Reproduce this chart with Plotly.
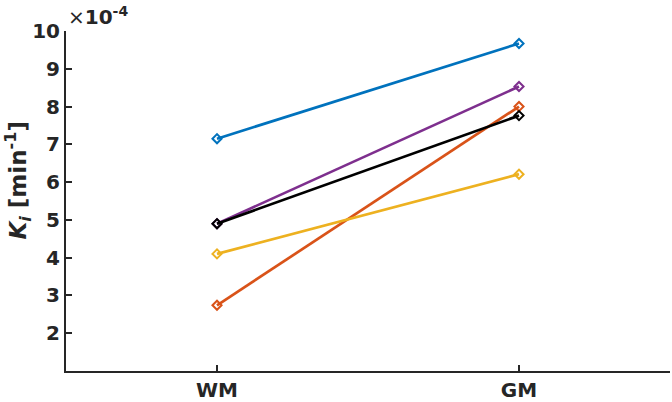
import plotly.graph_objects as go

regions = ["WM", "GM"]
x_pos = [1, 2]
y_ticks = [2, 3, 4, 5, 6, 7, 8, 9, 10]

# Ki values (x 1e-4 min^-1)
subject_blue = [7.15, 9.67]
subject_orange = [2.74, 8.00]
subject_yellow = [4.10, 6.21]
subject_purple = [4.90, 8.53]
subject_black = [4.90, 7.76]

series = [
    (subject_blue, "#0072BD"),
    (subject_orange, "#D95319"),
    (subject_yellow, "#EDB120"),
    (subject_purple, "#7E2F8E"),
    (subject_black, "#000000"),
]

FONT = "DejaVu Sans"
AXIS_COLOR = "#262626"

fig = go.Figure()
for vals, color in series:
    fig.add_trace(
        go.Scatter(
            x=x_pos,
            y=vals,
            mode="lines+markers",
            line=dict(color=color, width=2.7),
            marker=dict(symbol="diamond-open", size=7, color=color, line=dict(width=2)),
            showlegend=False,
        )
    )

axis_style = dict(
    showgrid=False,
    zeroline=False,
    showline=True,
    linecolor=AXIS_COLOR,
    linewidth=2,
    ticks="inside",
    ticklen=6,
    tickwidth=2,
    tickcolor=AXIS_COLOR,
    automargin=False,
    tickfont=dict(size=20, family=FONT, color=AXIS_COLOR, weight="bold"),
)

fig.update_layout(
    width=672,
    height=402,
    template="plotly_white",
    plot_bgcolor="white",
    paper_bgcolor="white",
    margin=dict(l=66, r=2, t=31, b=31, pad=0),
    font=dict(family=FONT, color=AXIS_COLOR),
    xaxis=dict(range=[0.5, 2.5], tickvals=x_pos, ticktext=regions, **axis_style),
    yaxis=dict(range=[1, 10], tickvals=y_ticks, **axis_style),
)

# y-axis title placed by hand (sits a bit above the plot centre, as in the original)
fig.add_annotation(
    x=0, y=0.56, xref="paper", yref="paper",
    xanchor="center", yanchor="middle",
    xshift=-48,
    textangle=-90,
    text="<i>K<sub>i</sub></i> [min<sup>-1</sup>]",
    showarrow=False,
    font=dict(size=23, family=FONT, color=AXIS_COLOR, weight="bold"),
)

fig.add_annotation(
    x=0, y=1, xref="paper", yref="paper",
    xanchor="left", yanchor="bottom",
    text="<span style='font-weight:normal'>×</span>10<sup>-4</sup>",
    showarrow=False,
    font=dict(size=20, family=FONT, color=AXIS_COLOR, weight="bold"),
)

fig.write_html(
    "out.html",
    config={"displayModeBar": False},
    post_script="document.body.style.margin='0';",
)
